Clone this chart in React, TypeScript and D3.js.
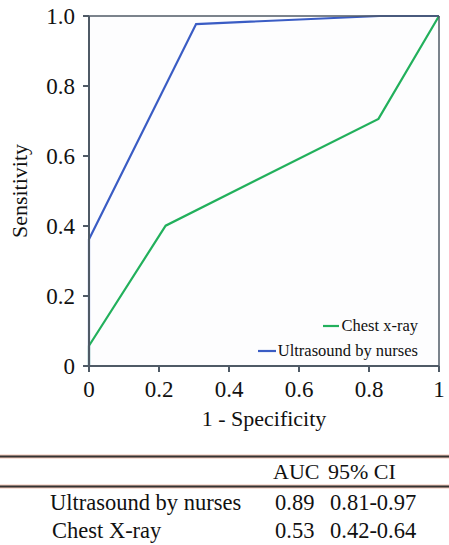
import React from "react";
import * as d3 from "d3";

const fprUltrasound = [0, 0, 0.306, 0.83, 1];
const tprUltrasound = [0, 0.362, 0.977, 1.0, 1];
const fprChest = [0, 0, 0.219, 0.827, 1];
const tprChest = [0, 0.058, 0.401, 0.706, 1];

const xTicks = [0, 0.2, 0.4, 0.6, 0.8, 1];
const xTickLabels = ["0", "0.2", "0.4", "0.6", "0.8", "1"];
const yTicks = [0, 0.2, 0.4, 0.6, 0.8, 1];
const yTickLabels = ["0", "0.2", "0.4", "0.6", "0.8", "1.0"];

const legendLabels = ["Chest x-ray", "Ultrasound by nurses"];
const tableHeaders = ["AUC", "95% CI"];
const tableRows = ["Ultrasound by nurses", "Chest X-ray"];
const tableAUC = ["0.89", "0.53"];
const tableCI = ["0.81-0.97", "0.42-0.64"];

const W = 449, H = 545;
const L = 89, T = 16, PW = 350, PH = 350;
const BLUE = "#3a5cc4";
const GREEN = "#22b05c";
const AXIS = "#4f5a66";
const FONT = "'Liberation Serif', 'Times New Roman', serif";

export default function App() {
  const x = d3.scaleLinear().domain([0, 1]).range([L, L + PW]);
  const y = d3.scaleLinear().domain([0, 1]).range([T + PH, T]);
  const line = d3.line<[number, number]>().x(d => x(d[0])).y(d => y(d[1]));
  const us = line(fprUltrasound.map((v, i) => [v, tprUltrasound[i]] as [number, number])) || "";
  const cx = line(fprChest.map((v, i) => [v, tprChest[i]] as [number, number])) || "";

  return (
    <svg width={W} height={H} style={{ position: "absolute", left: 0, top: 0, background: "#fff", fontFamily: FONT }}>
      <rect x={L} y={T} width={PW} height={PH} fill="#fdfdfe" />
      <path d={us} fill="none" stroke={BLUE} strokeWidth={2.2} />
      <path d={cx} fill="none" stroke={GREEN} strokeWidth={2.2} />
      <line x1={L} x2={L + PW} y1={T} y2={T} stroke={AXIS} strokeWidth={1.5} />
      <line x1={L + PW} x2={L + PW} y1={T} y2={T + PH} stroke={AXIS} strokeWidth={1.5} />
      <line x1={L} x2={L} y1={T} y2={T + PH} stroke={AXIS} strokeWidth={2} />
      <line x1={L} x2={L + PW} y1={T + PH} y2={T + PH} stroke={AXIS} strokeWidth={2} />
      {yTicks.map((t, i) => (
        <g key={"y" + i}>
          <line x1={L - 6} x2={L} y1={y(t)} y2={y(t)} stroke={AXIS} strokeWidth={2} />
          <text x={L - 14} y={y(t)} dy="0.35em" textAnchor="end" fontSize={23} fill="#111">{yTickLabels[i]}</text>
        </g>
      ))}
      {xTicks.map((t, i) => (
        <g key={"x" + i}>
          <line x1={x(t)} x2={x(t)} y1={T + PH} y2={T + PH + 6} stroke={AXIS} strokeWidth={2} />
          <text x={x(t)} y={397} textAnchor="middle" fontSize={23} fill="#111">{xTickLabels[i]}</text>
        </g>
      ))}
      <text transform={`translate(27,${T + PH / 2}) rotate(-90)`} textAnchor="middle" fontSize={22} fill="#111">Sensitivity</text>
      <text x={L + PW / 2} y={426} textAnchor="middle" fontSize={22} fill="#111">1 - Specificity</text>
      {legendLabels.map((lab, i) => (
        <text key={"lg" + i} x={418} y={326 + i * 25} dy="0.33em" textAnchor="end" fontSize={16.5} fill="#111">{lab}</text>
      ))}
      <line x1={323} x2={339} y1={326} y2={326} stroke={GREEN} strokeWidth={2.2} />
      <line x1={258} x2={276} y1={351} y2={351} stroke={BLUE} strokeWidth={2.2} />
      {[456.5, 486.5].map((ly, i) => (
        <g key={"tl" + i}>
          <line x1={0} x2={W} y1={ly} y2={ly} stroke="#f2c4b4" strokeWidth={4} />
          <line x1={0} x2={W} y1={ly} y2={ly} stroke="#333" strokeWidth={2} />
        </g>
      ))}
      <text x={273} y={479} fontSize={22} fill="#111">{tableHeaders[0]}</text>
      <text x={328} y={479} fontSize={22} fill="#111">{tableHeaders[1]}</text>
      {tableRows.map((r, i) => (
        <g key={"tr" + i}>
          <text x={50 + i * 2} y={510 + i * 28} fontSize={22.5} fill="#111">{r}</text>
          <text x={275} y={510 + i * 28} fontSize={22.5} fill="#111">{tableAUC[i]}</text>
          <text x={330} y={510 + i * 28} fontSize={22.5} fill="#111">{tableCI[i]}</text>
        </g>
      ))}
    </svg>
  );
}
